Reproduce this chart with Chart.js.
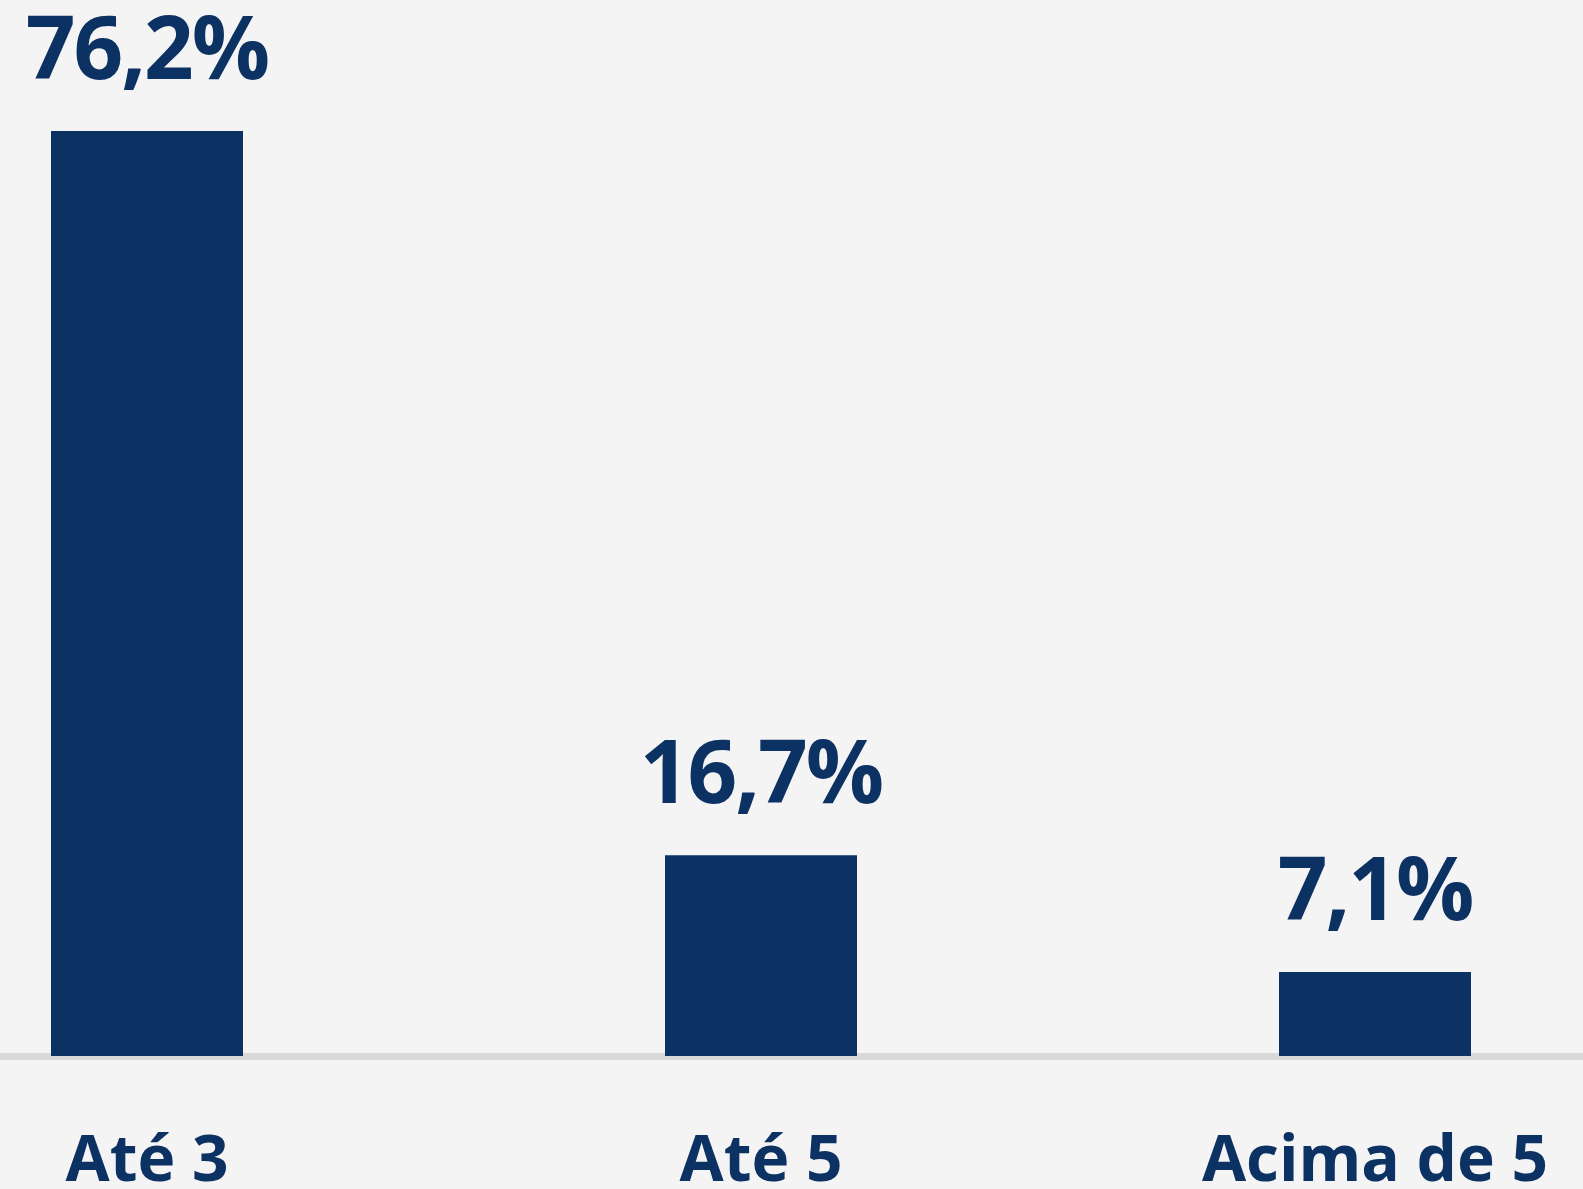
<!DOCTYPE html>
<html>
<head>
<meta charset="utf-8">
<script src="https://cdn.jsdelivr.net/npm/chart.js@4.4.1/dist/chart.umd.min.js"></script>
<style>
  html, body { margin: 0; padding: 0; background: #f4f4f4; overflow: hidden; }
  body { width: 1583px; height: 1189px; position: relative; }
  #wrap { position: absolute; left: -160px; top: 0; width: 1842px; height: 1189px; }
</style>
</head>
<body>
<div id="wrap"><canvas id="chart"></canvas></div>
<script>
const categories = ['Até 3', 'Até 5', 'Acima de 5'];
const values = [76.2, 16.7, 7.1];

const navy = '#0c3163';

// value labels above each bar, "76,2%"
const barLabels = {
    id: 'barLabels',
    afterDatasetsDraw(chart) {
        const ctx = chart.ctx;
        const meta = chart.getDatasetMeta(0);
        ctx.save();
        ctx.fillStyle = navy;
        ctx.font = 'bold 87px "Open Sans"';
        if ('letterSpacing' in ctx) ctx.letterSpacing = '-2px';
        ctx.textAlign = 'center';
        ctx.textBaseline = 'alphabetic';
        meta.data.forEach((bar, i) => {
            const txt = values[i].toFixed(1).replace('.', ',') + '%';
            ctx.fillText(txt, bar.x, bar.y - 52);
        });
        ctx.restore();
    }
};

new Chart(document.getElementById('chart'), {
    type: 'bar',
    data: {
        labels: categories,
        datasets: [{
            data: values,
            backgroundColor: navy,
            borderWidth: 0,
            categoryPercentage: 1,
            barPercentage: 0.3127
        }]
    },
    options: {
        responsive: true,
        maintainAspectRatio: false,
        animation: false,
        layout: { padding: { top: 131, left: 0, right: 0, bottom: 0 } },
        plugins: { legend: { display: false }, tooltip: { enabled: false } },
        scales: {
            x: {
                grid: { display: false },
                border: { display: true, color: '#d9d9d9', width: 7 },
                ticks: {
                    color: navy,
                    font: { family: '"Open Sans"', size: 64, weight: 'bold' },
                    padding: 60,
                    maxRotation: 0
                },
                afterFit: s => { s.height = 133; }
            },
            y: {
                display: false,
                min: 0.2,
                max: 76.2
            }
        }
    },
    plugins: [barLabels]
});
</script>
</body>
</html>
